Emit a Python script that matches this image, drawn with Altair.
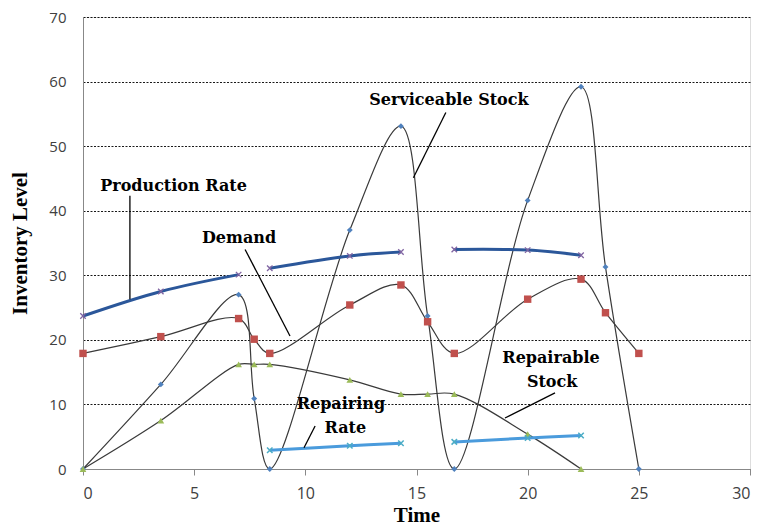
import altair as alt
import pandas as pd

# ---- data ----
time = [0, 3.5, 7.0, 7.7, 8.4, 12.0, 14.3, 15.5, 16.7, 20.0, 22.4, 23.5, 25.0]
serviceable = [0, 13.1, 27.0, 10.9, 0, 37.0, 53.1, 23.7, 0, 41.6, 59.2, 31.3, 0]
demand = [17.9, 20.5, 23.3, 20.1, 17.9, 25.4, 28.5, 22.8, 17.9, 26.3, 29.4, 24.2, 17.9]

repairable_time = [0, 3.5, 7.0, 7.7, 8.4, 12.0, 14.3, 15.5, 16.7, 20.0, 22.4]
repairable = [0, 7.5, 16.2, 16.2, 16.2, 13.8, 11.6, 11.6, 11.6, 5.4, 0]

prod_time = [0, 3.5, 7.0, 8.4, 12.0, 14.3, 16.7, 20.0, 22.4]
prod_seg = [1, 1, 1, 2, 2, 2, 3, 3, 3]
production = [23.7, 27.5, 30.1, 31.1, 33.0, 33.6, 34.0, 33.9, 33.1]

rep_time = [8.4, 12.0, 14.3, 16.7, 20.0, 22.4]
rep_seg = [1, 1, 1, 2, 2, 2]
repairing = [2.9, 3.6, 4.0, 4.2, 4.8, 5.2]

labels = ["Production Rate", "Demand", "Serviceable Stock", "Repairing", "Rate", "Repairable", "Stock"]
label_x = [4.07, 7.02, 16.46, 11.6, 11.8, 21.05, 21.1]
label_y = [43.8, 35.8, 57.1, 10.1, 6.3, 17.2, 13.5]

leader_x = [2.11, 7.29, 16.32, 10.44, 21.23]
leader_y = [42.3, 34.0, 55.2, 6.66, 11.8]
leader_x2 = [2.11, 9.31, 14.86, 9.94, 18.98]
leader_y2 = [26.3, 20.6, 45.1, 3.3, 7.9]

x_ticks = [0, 5, 10, 15, 20, 25, 30]
y_ticks = [0, 10, 20, 30, 40, 50, 60, 70]

# ---- tables ----
df_main = pd.DataFrame({"t": time, "serv": serviceable, "dem": demand})
df_rep = pd.DataFrame({"t": repairable_time, "v": repairable})
df_prod = pd.DataFrame({"t": prod_time, "v": production, "seg": prod_seg})
df_rr = pd.DataFrame({"t": rep_time, "v": repairing, "seg": rep_seg})
df_lab = pd.DataFrame({"x": label_x, "y": label_y, "text": labels})
df_lead = pd.DataFrame({"x": leader_x, "y": leader_y, "x2": leader_x2, "y2": leader_y2})

xs = alt.Scale(domain=[0, 30], nice=False)
ys = alt.Scale(domain=[0, 70], nice=False)

X = alt.X("t:Q", scale=xs, title="Time",
          axis=alt.Axis(values=x_ticks, grid=False, tickSize=6, tickColor="#888888",
                        domainColor="#888888", labelFont="Open Sans", labelFontSize=16,
                        labelColor="#404040", labelPadding=10,
                        titleFont="Liberation Serif", titleFontWeight="bold",
                        titleFontSize=21, titleColor="black", titlePadding=3))
Y = alt.Y("v:Q", scale=ys, title="Inventory Level",
          axis=alt.Axis(values=y_ticks, grid=True, gridColor="black", gridDash=[2, 1.5],
                        gridWidth=1, gridOpacity=0.9, ticks=False, domainColor="#888888",
                        labelFont="Open Sans", labelFontSize=15, labelColor="#404040",
                        labelPadding=17, titleFont="Liberation Serif", titleFontWeight="bold",
                        titleFontSize=21, titleColor="black", titlePadding=18))

black = "#3a3a3a"
smooth = "catmull-rom"
xshape = "M-1,-1L1,1M-1,1L1,-1"

base_serv = alt.Chart(df_main).transform_calculate(v="datum.serv")
base_dem = alt.Chart(df_main).transform_calculate(v="datum.dem")

serv_line = base_serv.mark_line(color=black, strokeWidth=1.2, interpolate=smooth).encode(x=X, y=Y)
dem_line = base_dem.mark_line(color=black, strokeWidth=1.2, interpolate=smooth).encode(x=X, y=Y)
rep_line = alt.Chart(df_rep).mark_line(color=black, strokeWidth=1.2, interpolate=smooth).encode(x=X, y=Y)

prod_line = alt.Chart(df_prod).mark_line(color="#2B579A", strokeWidth=3, interpolate=smooth).encode(
    x=X, y=Y, detail="seg:N")
rr_line = alt.Chart(df_rr).mark_line(color="#4A9BDC", strokeWidth=3, interpolate=smooth).encode(
    x=X, y=Y, detail="seg:N")

serv_pts = base_serv.mark_point(shape="diamond", filled=True, color="#4F81BD", size=35, opacity=1).encode(x=X, y=Y)
dem_pts = base_dem.mark_point(shape="square", filled=True, color="#C0504D", size=55, opacity=1).encode(x=X, y=Y)
rep_pts = alt.Chart(df_rep).mark_point(shape="triangle-up", filled=True, color="#9BBB59", size=45, opacity=1).encode(x=X, y=Y)
prod_pts = alt.Chart(df_prod).mark_point(shape=xshape, filled=False, color="#8064A2", size=30,
                                         strokeWidth=1.3, opacity=1).encode(x=X, y=Y)
rr_pts = alt.Chart(df_rr).mark_point(shape=xshape, filled=False, color="#4BACC6", size=30,
                                     strokeWidth=1.5, opacity=1).encode(x=X, y=Y)

leaders = alt.Chart(df_lead).mark_rule(color="black", strokeWidth=1.3).encode(
    x=alt.X("x:Q", scale=xs), y=alt.Y("y:Q", scale=ys), x2="x2:Q", y2="y2:Q")

texts = alt.Chart(df_lab).mark_text(font="DejaVu Serif", fontWeight="bold", fontSize=16,
                                    color="black", align="center", baseline="middle").encode(
    x=alt.X("x:Q", scale=xs), y=alt.Y("y:Q", scale=ys), text="text:N")

chart = alt.layer(
    serv_line, dem_line, rep_line, prod_line, rr_line,
    serv_pts, dem_pts, rep_pts, prod_pts, rr_pts,
    leaders, texts
).properties(
    width=667, height=452,
    autosize=alt.AutoSizeParams(type="none"),
    padding={"left": 75, "top": 9, "right": 3, "bottom": 60},
).configure_view(stroke=None).configure(background="white")

chart.save("out.html", embed_options={"renderer": "svg", "actions": False})
